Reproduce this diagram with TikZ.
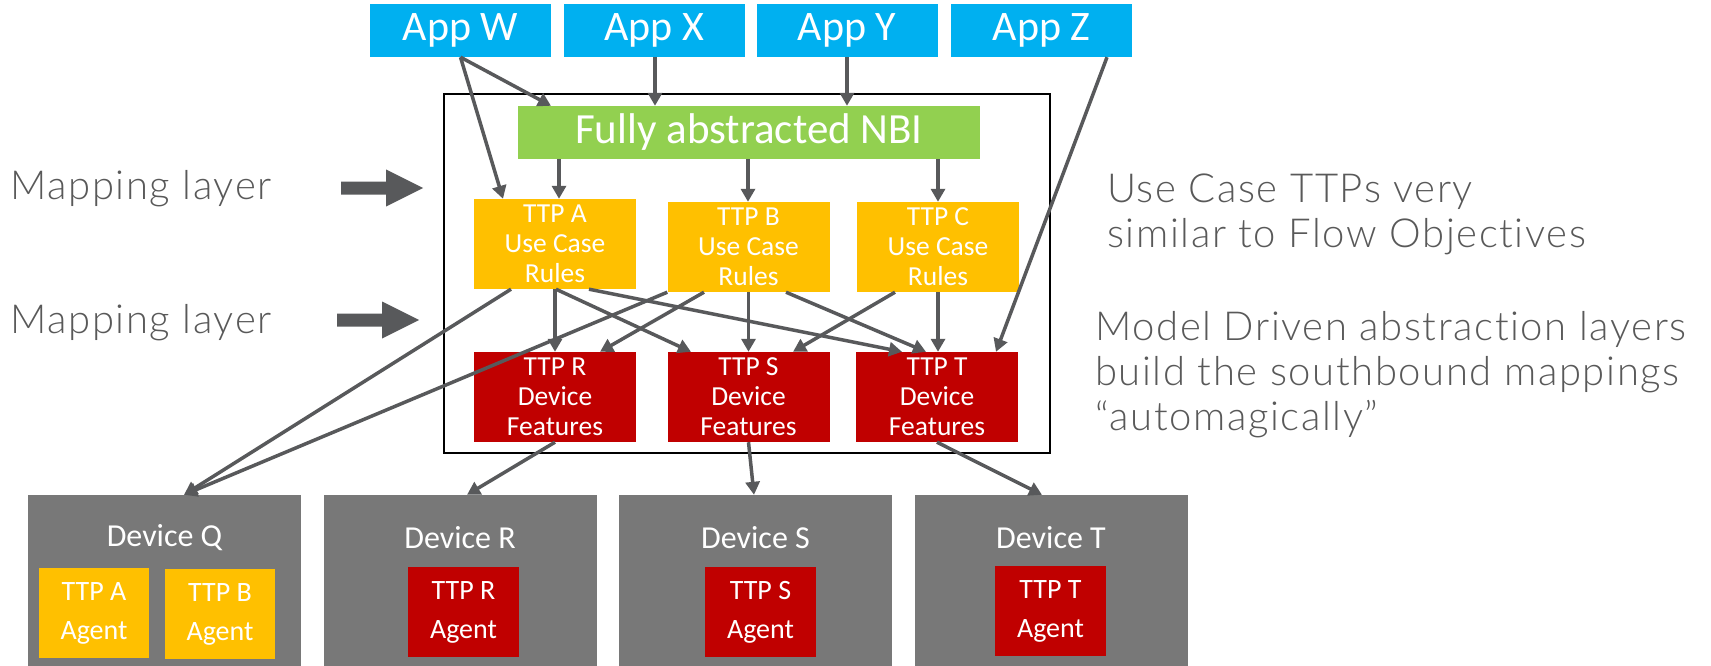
\documentclass[tikz,border=0pt]{standalone}
\usepackage{fontspec}
\usetikzlibrary{arrows.meta}
\setmainfont{Carlito}
\newfontfamily\lightfont{Lato Light}[LetterSpace=4,Ligatures=NoCommon]
\definecolor{appblue}{HTML}{00B0F0}
\definecolor{nbigreen}{HTML}{92D050}
\definecolor{ttpyellow}{HTML}{FFC000}
\definecolor{ttpred}{HTML}{C00000}
\definecolor{devgray}{HTML}{787878}
\definecolor{arrowgray}{HTML}{58595B}
\definecolor{textgray}{HTML}{595959}
\begin{document}
\begin{tikzpicture}[x=1pt,y=-1pt,
  box/.style={draw=none, inner sep=0pt, align=center, text=white},
  app/.style={box, fill=appblue, minimum width=181pt, minimum height=53pt, font=\fontsize{42}{44}\selectfont},
  nbibox/.style={box, fill=nbigreen, minimum width=462pt, minimum height=53pt, font=\fontsize{43}{44}\selectfont},
  ttpu/.style={box, fill=ttpyellow, minimum width=162pt, minimum height=90pt, font=\fontsize{27.5}{30}\selectfont},
  ttpd/.style={box, fill=ttpred, minimum width=162pt, minimum height=90pt, font=\fontsize{27.5}{30}\selectfont},
  device/.style={draw=none, fill=devgray, minimum width=273pt, minimum height=171pt, inner sep=0pt},
  devlabel/.style={text=white, inner sep=0pt, font=\fontsize{32}{34}\selectfont},
  agentY/.style={box, fill=ttpyellow, minimum width=110pt, minimum height=90pt, font=\fontsize{28}{39}\selectfont},
  agentR/.style={box, fill=ttpred, minimum width=111pt, minimum height=90pt, font=\fontsize{28}{39}\selectfont},
  conn/.style={draw=arrowgray, line width=3.5pt, -{Triangle[length=13pt,width=14pt]}},
  side/.style={text=textgray, inner sep=0pt, align=left, font=\lightfont\fontsize{40}{45}\selectfont},
]
\useasboundingbox (0,0) rectangle (1711,666);

% frame
\node[draw=black, line width=2pt, minimum width=606pt, minimum height=359pt, inner sep=0pt] (frame) at (747,273.5) {};

% apps
\node[app] (appW) at (460.5,30.5) {App W};
\node[app] (appX) at (654,30.5) {App X};
\node[app] (appY) at (847,30.5) {App Y};
\node[app] (appZ) at (1041.5,30.5) {App Z};

% NBI
\node[nbibox] (nbi) at (749,132.5) {Fully abstracted NBI};

% TTP use case
\node[ttpu] (ttpA) at (555,244) {TTP A\\Use Case\\Rules};
\node[ttpu] (ttpB) at (748.5,247) {TTP B\\Use Case\\Rules};
\node[ttpu] (ttpC) at (938,247) {TTP C\\Use Case\\Rules};

% TTP device
\node[ttpd] (ttpR) at (555,397) {TTP R\\Device\\Features};
\node[ttpd] (ttpS) at (748.5,397) {TTP S\\Device\\Features};
\node[ttpd] (ttpT) at (937,397) {TTP T\\Device\\Features};

% devices
\node[device] (devQ) at (164.5,580.5) {};
\node[device] (devR) at (460,580.5) {};
\node[device] (devS) at (755.5,580.5) {};
\node[device] (devT) at (1051,580.5) {};
\node[devlabel] (devQl) at (164.5,538) {Device Q};
\node[devlabel] (devRl) at (460,538) {Device R};
\node[devlabel] (devSl) at (755.5,538) {Device S};
\node[devlabel] (devTl) at (1051,538) {Device T};

% agents
\node[agentY] (agA) at (94,613) {TTP A\\Agent};
\node[agentY] (agB) at (220,614) {TTP B\\Agent};
\node[agentR] (agR) at (463.5,612) {TTP R\\Agent};
\node[agentR] (agS) at (760.5,612) {TTP S\\Agent};
\node[agentR] (agT) at (1050.5,611) {TTP T\\Agent};

% side labels
\node[side, anchor=base west] (map1) at (10,200) {Mapping layer};
\node[side, anchor=base west] (map2) at (10,333) {Mapping layer};
\node[side, anchor=north west] (note1) at (1107,174) {Use Case TTPs very\\similar to Flow Objectives};
\node[side, anchor=north west] (note2) at (1095,311) {Model Driven abstraction layers\\build the southbound mappings\\“automagically”};

% block arrows
\fill[arrowgray] (341,181.5) -- (386,181.5) -- (386,169.5) -- (423,188) -- (386,206.5) -- (386,194.5) -- (341,194.5) -- cycle;
\fill[arrowgray] (337,313.5) -- (382,313.5) -- (382,301.5) -- (419,320) -- (382,338.5) -- (382,326.5) -- (337,326.5) -- cycle;

% connectors: apps
\draw[conn] (appW.south) -- ([xshift=-198pt]nbi.north);
\draw[conn] (appW.south) -- ([xshift=-52pt]ttpA.north);
\draw[conn] ([xshift=1pt]appX.south) -- ([xshift=-94pt]nbi.north);
\draw[conn] (appY.south) -- ([xshift=98pt]nbi.north);
\draw[conn] ([xshift=65.5pt]appZ.south) -- ([xshift=59pt]ttpT.north);

% NBI to TTPs
\draw[conn] ([xshift=-190pt]nbi.south) -- ([xshift=-190pt]nbi.south |- ttpA.north);
\draw[conn] ([xshift=-1pt]nbi.south) -- ([xshift=-1pt]nbi.south |- ttpB.north);
\draw[conn] ([xshift=189pt]nbi.south) -- ([xshift=189pt]nbi.south |- ttpC.north);

% use case to device TTPs
\draw[conn] (ttpA.south) -- (ttpR.north);
\draw[conn] ([xshift=1pt]ttpA.south) -- ([xshift=-57.5pt]ttpS.north);
\draw[conn] ([xshift=34pt]ttpA.south) -- ([xshift=-35pt]ttpT.north);
\draw[conn] ([xshift=-44.5pt]ttpB.south) -- ([xshift=45pt]ttpR.north);
\draw[conn] (ttpB.south) -- (ttpS.north);
\draw[conn] ([xshift=37.5pt]ttpB.south) -- ([xshift=-11pt]ttpT.north);
\draw[conn] ([xshift=-43pt]ttpC.south) -- ([xshift=44.5pt]ttpS.north);
\draw[conn] (ttpC.south) -- (ttpC.south |- ttpT.north);

% to devices
\draw[conn] ([xshift=-44pt]ttpA.south) -- ([xshift=19.5pt]devQ.north);
\draw[conn] (ttpB.south west) -- ([xshift=19.5pt]devQ.north);
\draw[conn] (ttpR.south) -- ([xshift=7pt]devR.north);
\draw[conn] (ttpS.south) -- ([xshift=-1.5pt]devS.north);
\draw[conn] (ttpT.south) -- ([xshift=-9pt]devT.north);
\end{tikzpicture}
\end{document}
